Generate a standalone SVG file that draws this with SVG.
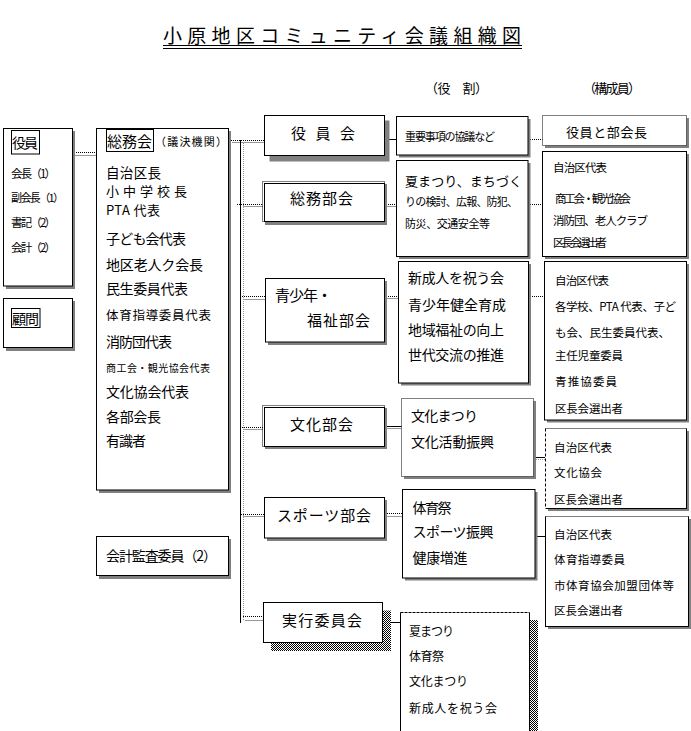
<svg xmlns="http://www.w3.org/2000/svg" width="691" height="731" viewBox="0 0 691 731">
<style>
.bx{fill:#fff;stroke:#000;stroke-width:1}
.dt{stroke-dasharray:1 1}
.ds{stroke-dasharray:3 1}
.sh{fill:#808080}
.ck{fill:url(#chk)}
.t{font-family:"Noto Sans CJK JP","Noto Sans",sans-serif;fill:#000}
.cb{stroke:#000;stroke-width:1;fill:none;stroke-dasharray:1 1}
.cs{stroke:#000;stroke-width:1;fill:none}
.cg{stroke:#999;stroke-width:1;fill:none}
</style>
<defs>
<pattern id="chk" width="2" height="2" patternUnits="userSpaceOnUse"><rect width="2" height="2" fill="#fff"/><rect width="1" height="1" fill="#000"/><rect x="1" y="1" width="1" height="1" fill="#000"/></pattern>
</defs>
<rect width="691" height="731" fill="#fff"/>

<g id="title">
<text class="t" x="163" y="43" font-size="19" textLength="358">小原地区コミュニティ会議組織図</text>
<line x1="163" y1="45.5" x2="522" y2="45.5" stroke="#000"/>
<line x1="163" y1="48.5" x2="522" y2="48.5" stroke="#000"/>
</g>
<g id="headers">
<text class="t" x="425" y="93" font-size="13" textLength="63">（役　割）</text>
<text class="t" x="583" y="93" font-size="13" textLength="58">（構成員）</text>
</g>

<g id="connectors">
<line class="cb" x1="72" y1="152.5" x2="97" y2="152.5"/>
<line class="cg" x1="75" y1="155.5" x2="97" y2="155.5"/>
<line class="cb" x1="229" y1="140.5" x2="264" y2="140.5"/>
<line class="cg" x1="232" y1="142.5" x2="264" y2="142.5"/>
<line class="cs" x1="240.5" y1="140" x2="240.5" y2="623"/>
<line class="cg dt" x1="243.5" y1="143" x2="243.5" y2="620"/>
<line class="cb" x1="237" y1="204.5" x2="263" y2="204.5"/>
<line class="cg" x1="243" y1="206.5" x2="263" y2="206.5"/>
<line class="cb" x1="240" y1="296.5" x2="265" y2="296.5"/>
<line class="cg" x1="243" y1="299.5" x2="265" y2="299.5"/>
<line class="cb" x1="240" y1="427.5" x2="263" y2="427.5"/>
<line class="cg" x1="243" y1="429.5" x2="263" y2="429.5"/>
<line class="cb" x1="241" y1="514.5" x2="264" y2="514.5"/>
<line class="cg" x1="243" y1="516.5" x2="264" y2="516.5"/>
<line class="cb" x1="243" y1="616.5" x2="263" y2="616.5"/>
<line class="cg" x1="245" y1="620.5" x2="263" y2="620.5"/>

<line class="cs" x1="389" y1="139.5" x2="397" y2="139.5"/>
<line class="cb" x1="384" y1="204.5" x2="397" y2="204.5"/>
<line class="cg" x1="387" y1="206.5" x2="397" y2="206.5"/>
<line class="cb" x1="384" y1="296.5" x2="398" y2="296.5"/>
<line class="cg" x1="387" y1="298.5" x2="398" y2="298.5"/>
<line class="cs" x1="384" y1="426.5" x2="402" y2="426.5"/>
<line class="cg" x1="387" y1="428.5" x2="402" y2="428.5"/>
<line class="cb" x1="385" y1="513.5" x2="403" y2="513.5"/>
<line class="cg" x1="387" y1="516.5" x2="403" y2="516.5"/>
<line class="cs" x1="391" y1="622.5" x2="401" y2="622.5"/>

<line class="cb" x1="528" y1="139.5" x2="543" y2="139.5"/>
<line class="cb" x1="528" y1="204.5" x2="543" y2="204.5"/>
<line class="cb" x1="528" y1="296.5" x2="544" y2="296.5"/>
<line class="cs" x1="533" y1="457.5" x2="545" y2="457.5"/>
<line class="cg dt" x1="536" y1="459.5" x2="545" y2="459.5"/>
<line class="cs" x1="537" y1="536.5" x2="546" y2="536.5"/>
</g>

<g id="yakuin">
<rect class="sh" x="6" y="131" width="69" height="158"/>
<rect class="bx" x="3.5" y="128.5" width="69" height="157.5"/>
<rect class="bx" x="11.5" y="130.5" width="28" height="23.5"/>
<text class="t" x="12" y="148" font-size="14" textLength="26">役員</text>
<text class="t" x="11" y="177.5" font-size="11.5" textLength="45">会長（1）</text>
<text class="t" x="11" y="201.5" font-size="11" textLength="53">副会長（1）</text>
<text class="t" x="11" y="226.5" font-size="11.5" textLength="45">書記（2）</text>
<text class="t" x="11" y="252" font-size="11.5" textLength="45">会計（2）</text>
</g>
<g id="komon">
<rect class="sh" x="6" y="301" width="69" height="50"/>
<rect class="bx" x="3.5" y="298.5" width="69" height="49"/>
<rect class="bx" x="11.5" y="308.5" width="28.5" height="19"/>
<text class="t" x="12" y="324" font-size="14" textLength="27">顧問</text>
</g>
<g id="soumukai">
<rect class="sh" x="99" y="131" width="132" height="362"/>
<rect class="bx" x="96.5" y="128.5" width="132" height="361.5"/>
<rect class="bx" x="106.5" y="129.5" width="47" height="22"/>
<text class="t" x="107" y="147" font-size="15" textLength="45">総務会</text>
<text class="t" x="155" y="146" font-size="11" textLength="72">（議決機関）</text>
<text class="t" x="106" y="177.5" font-size="13.5" textLength="55">自治区長</text>
<text class="t" x="106" y="195.5" font-size="13" textLength="81">小中学校長</text>
<text class="t" x="106" y="214.5" font-size="13" textLength="54">PTA 代表</text>
<text class="t" x="106" y="243.5" font-size="14" textLength="80">子ども会代表</text>
<text class="t" x="106" y="269.5" font-size="14" textLength="97">地区老人ク会長</text>
<text class="t" x="106" y="293.5" font-size="14" textLength="82">民生委員代表</text>
<text class="t" x="106" y="320" font-size="12.5" textLength="105">体育指導委員代表</text>
<text class="t" x="106" y="346.5" font-size="14" textLength="66">消防団代表</text>
<text class="t" x="106" y="372" font-size="10" textLength="104">商工会・観光協会代表</text>
<text class="t" x="106" y="396.5" font-size="14" textLength="83">文化協会代表</text>
<text class="t" x="106" y="421.5" font-size="14" textLength="55">各部会長</text>
<text class="t" x="106" y="446" font-size="14" textLength="40">有識者</text>
</g>
<g id="kansa">
<rect class="sh" x="99" y="539" width="132" height="40"/>
<rect class="bx" x="96.5" y="536.5" width="132" height="39"/>
<text class="t" x="106" y="560.5" font-size="14" textLength="111">会計監査委員（2）</text>
</g>

<g id="yakuinkai">
<rect class="sh" x="269.5" y="120.5" width="120" height="41"/>
<rect class="bx" x="264.5" y="115.5" width="120" height="40"/>
<text class="t" x="291" y="139" font-size="15" textLength="64">役　員　会</text>
</g>
<g id="soumubukai">
<rect class="sh" x="265" y="184" width="122" height="41"/>
<rect class="bx" x="264.5" y="183.5" width="120" height="38"/>
<rect x="262.5" y="181.5" width="122" height="40" fill="none" stroke="#000" class="dt"/>
<text class="t" x="290" y="204" font-size="15" textLength="63">総務部会</text>
</g>
<g id="seishonen">
<rect class="sh" x="268" y="281" width="119" height="64"/>
<rect class="bx" x="265.5" y="278.5" width="119" height="63.5"/>
<text class="t" x="275" y="300.5" font-size="15" textLength="57">青少年・</text>
<text class="t" x="307" y="326" font-size="15" textLength="63">福祉部会</text>
</g>
<g id="bunkabukai">
<rect class="sh" x="265" y="408" width="122" height="41"/>
<rect class="bx" x="264.5" y="407.5" width="120" height="39"/>
<rect x="262.5" y="405.5" width="122" height="41" fill="none" stroke="#000" class="dt"/>
<text class="t" x="290" y="430" font-size="15" textLength="63">文化部会</text>
</g>
<g id="sports">
<rect class="sh" x="267" y="500" width="120" height="41"/>
<rect class="bx" x="264.5" y="497.5" width="120" height="40.5"/>
<text class="t" x="277" y="521" font-size="15" textLength="94">スポーツ部会</text>
</g>
<g id="jikko">
<rect class="ck" x="271" y="610.5" width="120" height="40.5"/>
<rect class="bx" x="263.5" y="602.5" width="119" height="40"/>
<text class="t" x="282" y="625.5" font-size="15" textLength="80">実行委員会</text>
</g>

<g id="r_yakuin">
<rect class="sh" x="399" y="119" width="131.5" height="38.5"/>
<rect class="bx" x="396.5" y="116.5" width="131.5" height="38.5"/>
<text class="t" x="405" y="141" font-size="11" textLength="90">重要事項の協議など</text>
</g>
<g id="r_soumu">
<rect class="sh" x="399" y="163" width="131.5" height="96"/>
<rect class="bx" x="396.5" y="160.5" width="131.5" height="96"/>
<text class="t" x="405" y="186" font-size="13" textLength="117">夏まつり、まちづく</text>
<text class="t" x="405" y="206" font-size="11" textLength="113">りの検討、広報、防犯、</text>
<text class="t" x="405" y="227.5" font-size="11" textLength="85">防災、交通安全等</text>
</g>
<g id="r_seishonen">
<rect class="sh" x="401" y="264" width="130" height="121.5"/>
<rect class="bx" x="398.5" y="261.5" width="130" height="121.5"/>
<text class="t" x="408" y="283" font-size="14" textLength="96">新成人を祝う会</text>
<text class="t" x="408" y="309.5" font-size="14" textLength="98">青少年健全育成</text>
<text class="t" x="408" y="334.5" font-size="14" textLength="96">地域福祉の向上</text>
<text class="t" x="408" y="359.5" font-size="14" textLength="96">世代交流の推進</text>
</g>
<g id="r_bunka">
<rect class="sh" x="404" y="401" width="132" height="78"/>
<rect x="401.5" y="398.5" width="132" height="78" fill="#fff" stroke="#000" class="dt"/>
<text class="t" x="411" y="421" font-size="14" textLength="67">文化まつり</text>
<text class="t" x="411" y="447" font-size="14" textLength="83">文化活動振興</text>
</g>
<g id="r_sports">
<rect class="sh" x="405" y="492" width="132.5" height="88.5"/>
<rect class="bx" x="402.5" y="489.5" width="132.5" height="88.5"/>
<text class="t" x="412.5" y="512.5" font-size="14" textLength="39">体育祭</text>
<text class="t" x="412.5" y="537" font-size="14" textLength="81">スポーツ振興</text>
<text class="t" x="412.5" y="563" font-size="14" textLength="55">健康増進</text>
</g>
<g id="r_jikko">
<rect class="ck" x="530" y="620" width="8" height="111"/>
<rect class="bx" x="400.5" y="612.5" width="129" height="120"/>
<line x1="400.5" y1="612.5" x2="529.5" y2="612.5" stroke="#fff"/>
<line x1="400.5" y1="612.5" x2="529.5" y2="612.5" stroke="#000" stroke-dasharray="3 1"/>
<text class="t" x="409" y="636" font-size="12" textLength="45">夏まつり</text>
<text class="t" x="409" y="660.5" font-size="12" textLength="35">体育祭</text>
<text class="t" x="409" y="686" font-size="12" textLength="59">文化まつり</text>
<text class="t" x="409" y="713" font-size="12" textLength="88">新成人を祝う会</text>
</g>

<g id="m_yakuin">
<rect class="sh" x="545" y="118" width="144" height="30"/>
<rect x="542.5" y="115.5" width="144" height="30" fill="#fff" stroke="#000" class="dt"/>
<text class="t" x="566" y="137" font-size="13" textLength="81">役員と部会長</text>
</g>
<g id="m_soumu">
<rect class="sh" x="545" y="154" width="144" height="105"/>
<rect class="bx" x="542.5" y="151.5" width="144" height="105"/>
<text class="t" x="553" y="172" font-size="11.5" textLength="54">自治区代表</text>
<text class="t" x="555" y="203" font-size="11.5" textLength="76">商工会・観光協会</text>
<text class="t" x="553" y="224.5" font-size="11.5" textLength="95">消防団、老人クラブ</text>
<text class="t" x="553" y="246.5" font-size="11.5" textLength="54">区長会選出者</text>
</g>
<g id="m_seishonen">
<rect class="sh" x="547" y="264" width="142" height="158.5"/>
<rect class="bx" x="544.5" y="261.5" width="142" height="158.5"/>
<text class="t" x="555" y="284.5" font-size="11.5" textLength="54">自治区代表</text>
<text class="t" x="555" y="311" font-size="11.5" textLength="121">各学校、PTA 代表、子ど</text>
<text class="t" x="555" y="336.5" font-size="11.5" textLength="115">も会、民生委員代表、</text>
<text class="t" x="555" y="359.5" font-size="11.5" textLength="68">主任児童委員</text>
<text class="t" x="555" y="386" font-size="11.5" textLength="62">青推協委員</text>
<text class="t" x="555" y="412.5" font-size="11.5" textLength="68">区長会選出者</text>
</g>
<g id="m_bunka">
<rect class="sh" x="548" y="431" width="141" height="80"/>
<rect class="bx" x="545.5" y="428.5" width="141" height="80"/>
<line x1="545.5" y1="428.5" x2="545.5" y2="508.5" stroke="#fff"/>
<line x1="545.5" y1="428.5" x2="545.5" y2="508.5" stroke="#000" stroke-dasharray="3 2"/>
<line x1="545.5" y1="428.5" x2="686.5" y2="428.5" stroke="#fff"/>
<line x1="545.5" y1="428.5" x2="686.5" y2="428.5" stroke="#000" stroke-dasharray="1 1"/>
<text class="t" x="554" y="452" font-size="11.5" textLength="58">自治区代表</text>
<text class="t" x="554" y="476.5" font-size="11.5" textLength="48">文化協会</text>
<text class="t" x="554" y="503.5" font-size="11.5" textLength="69">区長会選出者</text>
</g>
<g id="m_sports">
<rect class="sh" x="548" y="519" width="143" height="110"/>
<rect class="bx" x="545.5" y="516.5" width="143" height="110"/>
<line x1="545.5" y1="516.5" x2="688.5" y2="516.5" stroke="#fff"/>
<line x1="545.5" y1="516.5" x2="688.5" y2="516.5" stroke="#000" stroke-dasharray="1 1"/>
<text class="t" x="554" y="538.5" font-size="11.5" textLength="58">自治区代表</text>
<text class="t" x="554" y="563.5" font-size="11.5" textLength="71">体育指導委員</text>
<text class="t" x="554" y="589.5" font-size="11.5" textLength="120">市体育協会加盟団体等</text>
<text class="t" x="554" y="614.5" font-size="11.5" textLength="69">区長会選出者</text>
</g>
</svg>
